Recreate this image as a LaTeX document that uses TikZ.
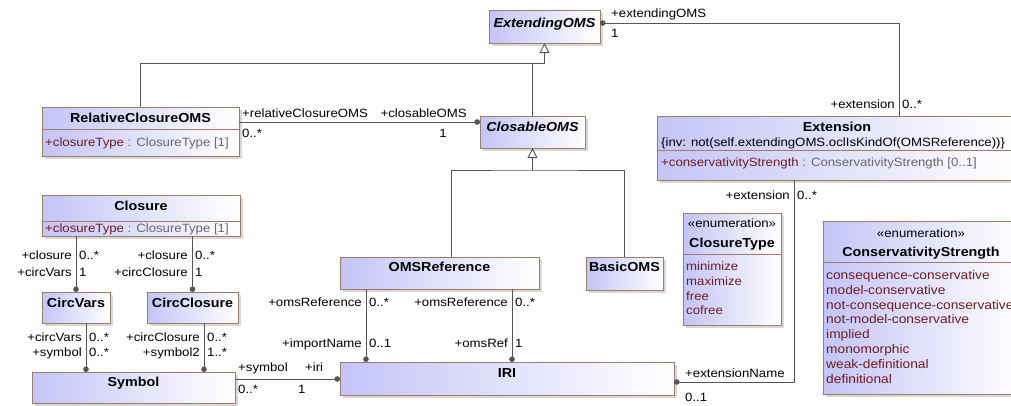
\documentclass[tikz,border=0pt]{standalone}
\usepackage{fontspec}
\setmainfont{Liberation Sans}[FakeStretch=1.1]
\usetikzlibrary{arrows.meta,shadows,calc}
\definecolor{umlblue}{RGB}{196,196,248}
\definecolor{umlborder}{RGB}{155,125,105}
\definecolor{umlline}{RGB}{85,85,85}
\definecolor{attrname}{RGB}{110,30,30}
\definecolor{attrtype}{RGB}{105,105,105}
\newcommand\lbl{\fontsize{12}{14}\selectfont}
\newcommand\lblbig{\fontsize{12.5}{14}\selectfont}
\newcommand\hdrfont{\fontsize{13}{15}\selectfont\bfseries}
\tikzset{
 cls/.style={draw=umlborder, line width=0.9pt, left color=umlblue, right color=white,
   drop shadow={shadow xshift=3pt, shadow yshift=-3pt, fill=black!30},
   anchor=north west, inner sep=0pt, outer sep=0pt},
 sepline/.style={draw=umlborder, line width=0.9pt},
 title/.style={font=\hdrfont, inner sep=0pt, anchor=base},
 atitle/.style={font=\hdrfont\itshape, inner sep=0pt, anchor=base},
 attr/.style={font=\lbl, inner sep=0pt, anchor=base west},
 lit/.style={font=\lblbig, text=attrname, inner sep=0pt, anchor=base west},
 lab/.style={font=\lbl, inner sep=0pt},
 assoc/.style={draw=umlline, line width=0.9pt, -{Circle[length=5.5pt]}},
 genl/.style={draw=umlline, line width=0.9pt},
 gen/.style={draw=umlline, line width=0.9pt, -{Triangle[open, length=10pt, width=10pt, fill=white]}},
}
\begin{document}
\begin{tikzpicture}[x=1pt,y=-1pt]
\useasboundingbox (0,0) rectangle (1011,405);
\fill[white] (0,0) rectangle (1011,405);
\clip (0,0) rectangle (1011,405);

% ---------- classes ----------
\node[cls, minimum width=111pt, minimum height=33pt] (eoms) at (489,10) {};
\node[atitle] (eomst) at (544.5,27.5) {ExtendingOMS};

\node[cls, minimum width=197pt, minimum height=49pt] (rco) at (42,107) {};
\draw[sepline] (42,129) -- (239,129);
\node[title] (rcot) at (140.5,122.5) {RelativeClosureOMS};
\node[attr] (rcoa) at (45,146.3) {{\color{attrname}+closureType}{\color{attrtype}\ : ClosureType [1]}};

\node[cls, minimum width=105pt, minimum height=32pt] (closable) at (480,116) {};
\node[atitle] (closablet) at (532.5,131.5) {ClosableOMS};

\node[cls, minimum width=360pt, minimum height=64pt] (ext) at (657,116) {};
\draw[sepline] (657,150) -- (1017,150);
\node[title] (extt) at (837,131.5) {Extension};
\node[lab, anchor=base west] (exti) at (661,146.3) {\{inv: not(self.extendingOMS.oclIsKindOf(OMSReference))\}};
\node[attr] (exta) at (661,166.3) {{\color{attrname}+conservativityStrength}{\color{attrtype}\ : ConservativityStrength [0..1]}};

\node[cls, minimum width=198pt, minimum height=41pt] (closure) at (42,195) {};
\draw[sepline] (42,221) -- (240,221);
\node[title] (closuret) at (141,210.7) {Closure};
\node[attr] (closurea) at (45,232.3) {{\color{attrname}+closureType}{\color{attrtype}\ : ClosureType [1]}};

\node[cls, minimum width=68pt, minimum height=31pt] (circvars) at (42,292) {};
\node[title] (circvarst) at (76,307.7) {CircVars};

\node[cls, minimum width=91pt, minimum height=31pt] (circclos) at (147,292) {};
\node[title] (circclost) at (192.5,307.7) {CircClosure};

\node[cls, minimum width=203pt, minimum height=31pt] (symbol) at (32,372) {};
\node[title] (symbolt) at (133.5,386.7) {Symbol};

\node[cls, minimum width=199pt, minimum height=32pt] (omsref) at (340,257) {};
\node[title] (omsreft) at (439.5,271.7) {OMSReference};

\node[cls, minimum width=77pt, minimum height=33pt] (basic) at (586,257) {};
\node[title] (basict) at (624.5,271.7) {BasicOMS};

\node[cls, minimum width=334pt, minimum height=33pt] (iri) at (340,362) {};
\node[title] (irit) at (507,377.7) {IRI};

% enumeration ClosureType
\node[cls, minimum width=98pt, minimum height=112pt] (ctype) at (683,213) {};
\draw[sepline] (683,254) -- (781,254);
\node[lab, anchor=base] (ctypes) at (732,227.3) {«enumeration»};
\node[title] (ctypet) at (732,247.7) {ClosureType};
\node[attr, text=attrname] (ct1) at (686,270.3) {minimize};
\node[attr, text=attrname] (ct2) at (686,285.3) {maximize};
\node[attr, text=attrname] (ct3) at (686,300.3) {free};
\node[attr, text=attrname] (ct4) at (686,314.3) {cofree};

% enumeration ConservativityStrength
\node[cls, minimum width=198pt, minimum height=173pt] (cstr) at (823,221) {};
\draw[sepline] (823,262) -- (1021,262);
\node[lab, anchor=base] (cstrs) at (921,237.3) {«enumeration»};
\node[title] (cstrt) at (921,256.7) {ConservativityStrength};
\node[lit] (cs1) at (826,279.3) {consequence-conservative};
\node[lit] (cs2) at (826,294.2) {model-conservative};
\node[lit] (cs3) at (826,309.0) {not-consequence-conservative};
\node[lit] (cs4) at (826,323.9) {not-model-conservative};
\node[lit] (cs5) at (826,338.7) {implied};
\node[lit] (cs6) at (826,353.6) {monomorphic};
\node[lit] (cs7) at (826,368.4) {weak-definitional};
\node[lit] (cs8) at (826,383.3) {definitional};

% ---------- generalizations ----------
\coordinate (j1) at (544.5,63);
\draw[genl] (rco.north) |- (j1);
\draw[genl] (closable.north) -- (closable.north |- j1);
\draw[gen] (j1) -- (eoms.south);

\coordinate (j2) at (532.5,170);
\draw[genl] ([xshift=11.5pt]omsref.north) |- (j2) -| (basic.north);
\draw[gen] (j2) -- (closable.south);

% ---------- associations ----------
\draw[assoc] ([xshift=62pt]ext.north) |- ([yshift=3.5pt]eoms.east);
\node[lab, anchor=base west] (l1) at (611,17) {+extendingOMS};
\node[lab, anchor=base west] (l2) at (611,37) {1};
\node[lab, anchor=base east] (l3) at (895,108) {+extension};
\node[lab, anchor=base west] (l4) at (902,108) {0..*};

\coordinate (a1) at ([yshift=9.5pt]rco.east);
\draw[assoc] (a1) -- (a1 -| closable.west);
\node[lab, anchor=base west] (l5) at (242,117) {+relativeClosureOMS};
\node[lab, anchor=base west] (l6) at (242,137) {0..*};
\node[lab, anchor=base east] (l7) at (467,117) {+closableOMS};
\node[lab, anchor=base] (l8) at (443,137) {1};

\draw[assoc] (circvars.north |- closure.south) -- (circvars.north);
\node[lab, anchor=base east] (l9) at (72,259) {+closure};
\node[lab, anchor=base west] (l10) at (79,259) {0..*};
\node[lab, anchor=base east] (l11) at (72,276) {+circVars};
\node[lab, anchor=base west] (l12) at (79,276) {1};

\draw[assoc] (circclos.north |- closure.south) -- (circclos.north);
\node[lab, anchor=base east] (l13) at (188,259) {+closure};
\node[lab, anchor=base west] (l14) at (195,259) {0..*};
\node[lab, anchor=base east] (l15) at (188,276) {+circClosure};
\node[lab, anchor=base west] (l16) at (195,276) {1};

\coordinate (a2) at ([xshift=10pt]circvars.south);
\draw[assoc] (a2) -- (a2 |- symbol.north);
\node[lab, anchor=base east] (l17) at (82,341) {+circVars};
\node[lab, anchor=base west] (l18) at (89,341) {0..*};
\node[lab, anchor=base east] (l19) at (82,356) {+symbol};
\node[lab, anchor=base west] (l20) at (89,356) {0..*};

\coordinate (a3) at ([xshift=11.5pt]circclos.south);
\draw[assoc] (a3) -- (a3 |- symbol.north);
\node[lab, anchor=base east] (l21) at (200,341) {+circClosure};
\node[lab, anchor=base west] (l22) at (207,341) {0..*};
\node[lab, anchor=base east] (l23) at (200,356) {+symbol2};
\node[lab, anchor=base west] (l24) at (207,356) {1..*};

\coordinate (a4) at ([yshift=8.5pt]symbol.east);
\draw[assoc] (a4) -- (a4 -| iri.west);
\node[lab, anchor=base west] (l25) at (238,371) {+symbol};
\node[lab, anchor=base west] (l26) at (305,371) {+iri};
\node[lab, anchor=base west] (l27) at (238,393) {0..*};
\node[lab, anchor=base west] (l28) at (298,393) {1};

\coordinate (a5) at ([xshift=-73.5pt]omsref.south);
\draw[assoc] (a5) -- (a5 |- iri.north);
\node[lab, anchor=base east] (l29) at (362,306) {+omsReference};
\node[lab, anchor=base west] (l30) at (369,306) {0..*};
\node[lab, anchor=base east] (l31) at (362,347) {+importName};
\node[lab, anchor=base west] (l32) at (369,347) {0..1};

\coordinate (a6) at ([xshift=72.5pt]omsref.south);
\draw[assoc] (a6) -- (a6 |- iri.north);
\node[lab, anchor=base east] (l33) at (508,306) {+omsReference};
\node[lab, anchor=base west] (l34) at (515,306) {0..*};
\node[lab, anchor=base east] (l35) at (508,347) {+omsRef};
\node[lab, anchor=base west] (l36) at (515,347) {1};

\coordinate (a7) at ([xshift=-43pt]ext.south);
\coordinate (a8) at ([yshift=-3.5pt]iri.east);
\draw[assoc] (a7) |- (a8);
\node[lab, anchor=base west] (l37) at (685,377) {+extensionName};
\node[lab, anchor=base west] (l38) at (685,401) {0..1};
\node[lab, anchor=base east] (l39) at (790,199) {+extension};
\node[lab, anchor=base west] (l40) at (797,199) {0..*};
\end{tikzpicture}
\end{document}
